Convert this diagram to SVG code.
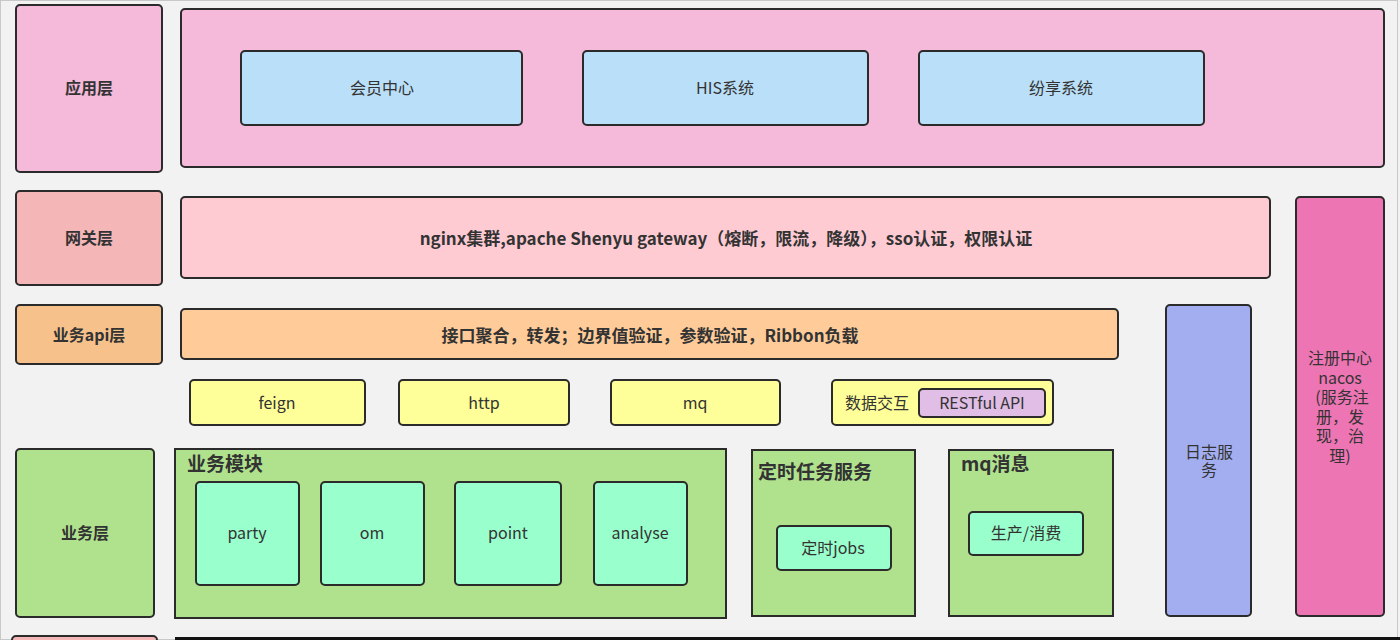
<svg xmlns="http://www.w3.org/2000/svg" width="1400" height="640" viewBox="0 0 1400 640">
<style>
.b{stroke:#2b2b2b;stroke-width:2}
.t{font-family:"Noto Sans CJK SC","Liberation Sans",sans-serif;font-size:16px;fill:#333;text-anchor:middle;dominant-baseline:central}
.bt{font-family:"Noto Sans CJK SC","Liberation Sans",sans-serif;font-size:16px;font-weight:bold;fill:#333;text-anchor:middle;dominant-baseline:central}
.bt17{font-size:17px}
.h{font-family:"Noto Sans CJK SC","Liberation Sans",sans-serif;font-size:19px;font-weight:bold;fill:#333;dominant-baseline:central}
.pink{fill:#f5b9da}.blue{fill:#badff8}.rose{fill:#f4b6b7}.gw{fill:#ffcbd3}.org{fill:#f6c18b}.api{fill:#ffcc99}
.yel{fill:#ffff99}.pur{fill:#e0bee6}.grn{fill:#b0e28e}.mint{fill:#99ffcc}.lav{fill:#a3aef0}.mag{fill:#ee75b3}
</style>
<rect x="0" y="0" width="1400" height="640" fill="#f2f2f2"/>
<rect x="0.5" y="0.5" width="1397" height="639" fill="none" stroke="#c8c8c8" stroke-width="1"/>
<g id="app-layer"><rect class="b pink" x="16" y="5" width="146" height="167" rx="4"/><text class="bt" x="89" y="87">应用层</text></g>
<g id="app-container"><rect class="b pink" x="181" y="9" width="1203" height="158" rx="4"/></g>
<g id="member"><rect class="b blue" x="241" y="51" width="281" height="74" rx="4"/><text class="t" x="382" y="87">会员中心</text></g>
<g id="his"><rect class="b blue" x="583" y="51" width="285" height="74" rx="4"/><text class="t" x="725" y="87">HIS系统</text></g>
<g id="fenxiang"><rect class="b blue" x="919" y="51" width="285" height="74" rx="4"/><text class="t" x="1061" y="87">纷享系统</text></g>
<g id="gateway-layer"><rect class="b rose" x="16" y="191" width="146" height="94" rx="4"/><text class="bt" x="89" y="237">网关层</text></g>
<g id="gateway"><rect class="b gw" x="181" y="197" width="1089" height="81" rx="4"/><text class="bt bt17" x="726" y="237">nginx集群,apache Shenyu gateway（熔断，限流，降级），sso认证，权限认证</text></g>
<g id="api-layer"><rect class="b org" x="16" y="305" width="146" height="59" rx="4"/><text class="bt" x="89" y="334">业务api层</text></g>
<g id="api"><rect class="b api" x="181" y="309" width="937" height="50" rx="4"/><text class="bt bt17" x="650" y="334">接口聚合，转发；边界值验证，参数验证，Ribbon负载</text></g>
<g id="feign"><rect class="b yel" x="190" y="380" width="175" height="45" rx="4"/><text class="t" x="277" y="402">feign</text></g>
<g id="http"><rect class="b yel" x="399" y="380" width="170" height="45" rx="4"/><text class="t" x="484" y="402">http</text></g>
<g id="mq"><rect class="b yel" x="611" y="380" width="169" height="45" rx="4"/><text class="t" x="695" y="402">mq</text></g>
<g id="data"><rect class="b yel" x="832" y="380" width="221" height="45" rx="4"/><text class="t" x="877" y="402">数据交互</text>
<rect class="b pur" x="919" y="389" width="126" height="28" rx="4"/><text class="t" x="982" y="402">RESTful API</text></g>
<g id="biz-layer"><rect class="b grn" x="16" y="449" width="138" height="168" rx="4"/><text class="bt" x="85" y="532">业务层</text></g>
<g id="biz-module"><rect class="b grn" x="175" y="449" width="551" height="169"/><text class="h" x="187" y="462">业务模块</text></g>
<g id="party"><rect class="b mint" x="196" y="482" width="103" height="103" rx="4"/><text class="t" x="247" y="532">party</text></g>
<g id="om"><rect class="b mint" x="321" y="482" width="103" height="103" rx="4"/><text class="t" x="372" y="532">om</text></g>
<g id="point"><rect class="b mint" x="455" y="482" width="106" height="103" rx="4"/><text class="t" x="508" y="532">point</text></g>
<g id="analyse"><rect class="b mint" x="594" y="482" width="93" height="103" rx="4"/><text class="t" x="640" y="532">analyse</text></g>
<g id="timer"><rect class="b grn" x="752" y="450" width="163" height="166"/><text class="h" x="758" y="470">定时任务服务</text>
<rect class="b mint" x="777" y="526" width="114" height="44" rx="4"/><text class="t" x="833" y="547">定时jobs</text></g>
<g id="mq-msg"><rect class="b grn" x="949" y="450" width="164" height="166"/><text class="h" x="961" y="462">mq消息</text>
<rect class="b mint" x="969" y="512" width="114" height="43" rx="4"/><text class="t" x="1026" y="532">生产/消费</text></g>
<g id="log"><rect class="b lav" x="1166" y="305" width="85" height="311" rx="4"/><text class="t"><tspan x="1209" y="451">日志服</tspan><tspan x="1209" dy="18">务</tspan></text></g>
<g id="nacos"><rect class="b mag" x="1296" y="197" width="88" height="419" rx="4"/>
<text class="t"><tspan x="1340" y="357">注册中心</tspan><tspan x="1340" dy="19.6">nacos</tspan><tspan x="1342" dy="19.6">(服务注</tspan><tspan x="1340" dy="19.6">册，发</tspan><tspan x="1340" dy="19.6">现，治</tspan><tspan x="1340" dy="19.6">理)</tspan></text></g>
<g id="connectors"></g>
<g id="bottom-cut"><rect class="b rose" x="12" y="636" width="145" height="20" rx="4"/><rect x="175" y="637" width="1225" height="3" fill="#111"/></g>
</svg>
